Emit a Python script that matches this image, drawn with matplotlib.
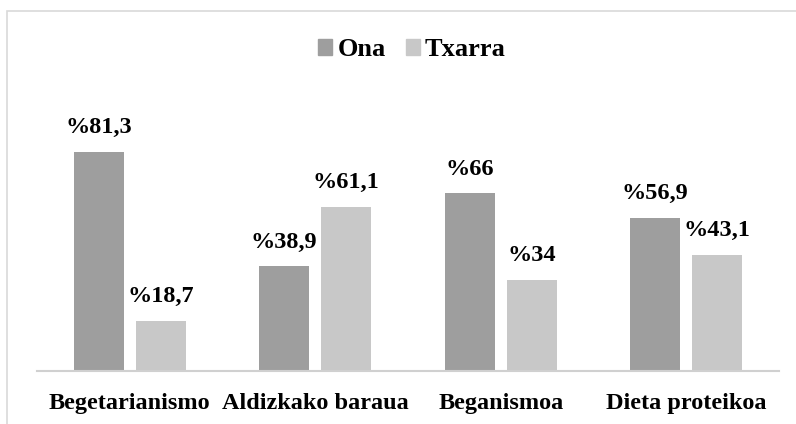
import matplotlib
matplotlib.use("Agg")
import matplotlib.pyplot as plt
from matplotlib.patches import Rectangle, Patch
import numpy as np

categories = ["Begetarianismo", "Aldizkako baraua", "Beganismoa", "Dieta proteikoa"]
ona = [81.3, 38.9, 66, 56.9]
txarra = [18.7, 61.1, 34, 43.1]
ona_labels = ["%81,3", "%38,9", "%66", "%56,9"]
txarra_labels = ["%18,7", "%61,1", "%34", "%43,1"]
series_names = ["Ona", "Txarra"]

c_ona = "#9e9e9e"
c_tx = "#c8c8c8"

plt.rcParams['font.family'] = ['Liberation Serif', 'DejaVu Serif']
plt.rcParams['font.weight'] = 'bold'

fig = plt.figure(figsize=(7.96, 4.24), dpi=100)
W, H = 796, 424
ax = fig.add_axes([37 / W, 1 - 371 / H, (779 - 37) / W, (371 - 102) / H])

x = np.arange(len(categories))
bw = 0.27
off = 0.167
b1 = ax.bar(x - off, ona, bw, color=c_ona)
b2 = ax.bar(x + off, txarra, bw, color=c_tx)

for bars, labs in ((b1, ona_labels), (b2, txarra_labels)):
    for rect, lab in zip(bars, labs):
        ax.annotate(lab, (rect.get_x() + rect.get_width() / 2, rect.get_height()),
                    xytext=(0, 10), textcoords="offset points",
                    ha="center", va="bottom", fontsize=17.5, fontweight="bold")

ax.set_xlim(-0.5, len(categories) - 0.5)
ax.set_ylim(0, 100)
ax.set_xticks(x)
ax.set_xticklabels(categories, fontsize=17.5, fontweight="bold")
ax.tick_params(axis="x", length=0, pad=15.5)
ax.set_yticks([])
for s in ["top", "right", "left"]:
    ax.spines[s].set_visible(False)
ax.spines["bottom"].set_color("#d0d0d0")
ax.spines["bottom"].set_linewidth(1.5)

handles = [Patch(color=c_ona), Patch(color=c_tx)]
fig.legend(handles, series_names, loc="center", bbox_to_anchor=(412 / W, 1 - 50 / H),
           ncol=2, frameon=False, prop={'weight': 'bold', 'size': 19},
           handlelength=0.53, handleheight=0.53, handletextpad=0.2, columnspacing=0.75)

fig.patches.append(Rectangle((7.5 / W, -0.1), 1.2, 1.1 - 11.5 / H, transform=fig.transFigure,
                             fill=False, edgecolor="#d9d9d9", linewidth=1.2, clip_on=False))

fig.savefig("out.png", dpi=100)
